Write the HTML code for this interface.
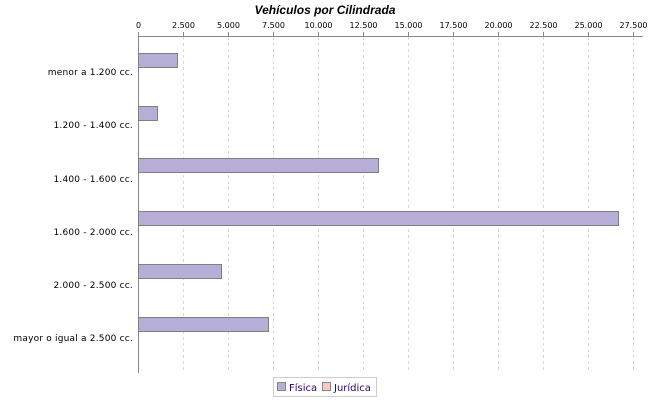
<!DOCTYPE html>
<html><head><meta charset="utf-8"><style>
body{margin:0;background:#fff;}
svg text{font-family:"DejaVu Sans","Liberation Sans",sans-serif;}
</style></head><body>
<svg width="650" height="400" xmlns="http://www.w3.org/2000/svg">
<rect width="650" height="400" fill="#fff"/>
<text x="325" y="14" text-anchor="middle" font-size="12" font-weight="bold" font-style="italic" fill="#000" style="font-family:'Liberation Sans',sans-serif">Vehículos por Cilindrada</text>
<g font-size="8" fill="#000" text-anchor="middle">
<text x="138.5" y="28">0</text><text x="183.5" y="28">2.500</text><text x="228.5" y="28">5.000</text><text x="273.5" y="28">7.500</text><text x="318.5" y="28">10.000</text><text x="363.5" y="28">12.500</text><text x="408.5" y="28">15.000</text><text x="453.5" y="28">17.500</text><text x="498.5" y="28">20.000</text><text x="543.5" y="28">22.500</text><text x="588.5" y="28">25.000</text><text x="633.5" y="28">27.500</text>
</g>
<g stroke="#d8d8d8" stroke-dasharray="3,3" stroke-width="1">
<line x1="183.5" y1="37" x2="183.5" y2="373"/><line x1="228.5" y1="37" x2="228.5" y2="373"/><line x1="273.5" y1="37" x2="273.5" y2="373"/><line x1="318.5" y1="37" x2="318.5" y2="373"/><line x1="363.5" y1="37" x2="363.5" y2="373"/><line x1="408.5" y1="37" x2="408.5" y2="373"/><line x1="453.5" y1="37" x2="453.5" y2="373"/><line x1="498.5" y1="37" x2="498.5" y2="373"/><line x1="543.5" y1="37" x2="543.5" y2="373"/><line x1="588.5" y1="37" x2="588.5" y2="373"/><line x1="633.5" y1="37" x2="633.5" y2="373"/>
</g>
<g stroke="#888" stroke-width="1">
<line x1="138.5" y1="32" x2="138.5" y2="37"/><line x1="183.5" y1="32" x2="183.5" y2="37"/><line x1="228.5" y1="32" x2="228.5" y2="37"/><line x1="273.5" y1="32" x2="273.5" y2="37"/><line x1="318.5" y1="32" x2="318.5" y2="37"/><line x1="363.5" y1="32" x2="363.5" y2="37"/><line x1="408.5" y1="32" x2="408.5" y2="37"/><line x1="453.5" y1="32" x2="453.5" y2="37"/><line x1="498.5" y1="32" x2="498.5" y2="37"/><line x1="543.5" y1="32" x2="543.5" y2="37"/><line x1="588.5" y1="32" x2="588.5" y2="37"/><line x1="633.5" y1="32" x2="633.5" y2="37"/>
<line x1="138" y1="36.5" x2="643" y2="36.5"/>
<line x1="138.5" y1="36" x2="138.5" y2="373"/>
</g>
<g fill="#b7aed8" stroke="#808080" stroke-width="1">
<rect x="138.5" y="53.5" width="39" height="14"/>
<rect x="138.5" y="106.5" width="19" height="14"/>
<rect x="138.5" y="158.5" width="240" height="14"/>
<rect x="138.5" y="211.5" width="480" height="14"/>
<rect x="138.5" y="264.5" width="83" height="14"/>
<rect x="138.5" y="317.5" width="130" height="14"/>
</g>
<g font-size="9" fill="#000" text-anchor="end" letter-spacing="0.2">
<text x="133" y="75">menor a 1.200 cc.</text>
<text x="133" y="128">1.200 - 1.400 cc.</text>
<text x="133" y="182">1.400 - 1.600 cc.</text>
<text x="133" y="235">1.600 - 2.000 cc.</text>
<text x="133" y="288">2.000 - 2.500 cc.</text>
<text x="133" y="341">mayor o igual a 2.500 cc.</text>
</g>
<rect x="273.5" y="377.5" width="103" height="19" fill="#fff" stroke="#ccc"/>
<rect x="277.5" y="382.5" width="8" height="8" fill="#b7aed8" stroke="#888"/>
<text x="289" y="391" font-size="10" fill="#330066">Física</text>
<rect x="322.5" y="382.5" width="8" height="8" fill="#f8c8c4" stroke="#888"/>
<text x="334" y="391" font-size="10" fill="#330066">Jurídica</text>
</svg>
</body></html>
